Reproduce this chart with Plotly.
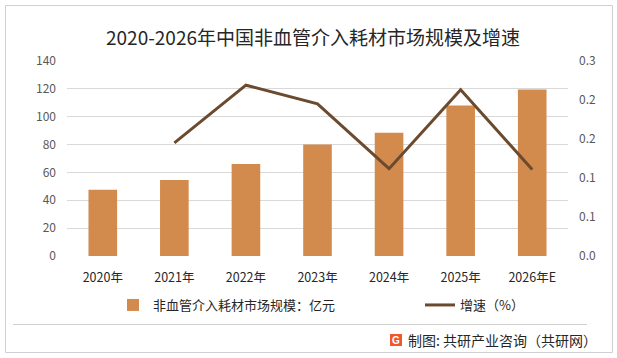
import plotly.graph_objects as go

years = ["2020年", "2021年", "2022年", "2023年", "2024年", "2025年", "2026年E"]
market_size = [47.5, 54.5, 66, 80, 88.5, 108, 119.5]
growth_years = ["2021年", "2022年", "2023年", "2024年", "2025年", "2026年E"]
growth_rate = [0.145, 0.219, 0.195, 0.112, 0.213, 0.111]
left_ticks = [0, 20, 40, 60, 80, 100, 120, 140]
right_ticks = [0, 0.05, 0.10, 0.15, 0.20, 0.25]
right_tick_text = ["0.0", "0.1", "0.1", "0.2", "0.2", "0.3"]

W, H = 617, 358
L, R, T, B = 67, 49, 61, 102
pw, ph = W - L - R, H - T - B

def px(x):
    return (x - L) / pw

def py(y):
    return (H - B - y) / ph

font_cn = "Noto Sans CJK SC, Microsoft YaHei, sans-serif"

fig = go.Figure()
fig.add_trace(go.Bar(
    x=years, y=market_size, name="非血管介入耗材市场规模：亿元",
    marker=dict(color="#D38B4D", line=dict(width=0)),
    yaxis="y", legend="legend",
))
fig.add_trace(go.Scatter(
    x=growth_years, y=growth_rate, name="增速（%）", mode="lines",
    line=dict(color="#6B4A2E", width=3),
    yaxis="y2", legend="legend2",
))

fig.update_layout(
    width=W, height=H,
    margin=dict(l=L, r=R, t=T, b=B),
    paper_bgcolor="white", plot_bgcolor="white",
    bargap=0.6,
    font=dict(family=font_cn, size=12, color="#595959"),
    title=dict(text="2020-2026年中国非血管介入耗材市场规模及增速",
               x=px(313), xref="paper", xanchor="center",
               y=1 - 38 / H, yanchor="middle",
               font=dict(family=font_cn, size=19, color="#262626")),
    xaxis=dict(type="category", showgrid=False, zeroline=False, showline=False,
               ticks="", ticklabelstandoff=12,
               tickfont=dict(size=12.5, color="#262626")),
    yaxis=dict(range=[0, 140], tickvals=left_ticks, showgrid=True,
               gridcolor="#D9D9D9", gridwidth=1, zeroline=False, showline=False,
               ticks="", ticklabelstandoff=10, tickfont=dict(size=12, color="#595959")),
    yaxis2=dict(range=[0, 0.25], overlaying="y", side="right",
                tickvals=right_ticks, ticktext=right_tick_text, showgrid=False,
                zeroline=False, showline=False, ticks="", ticklabelstandoff=10,
                tickfont=dict(size=12, color="#595959")),
    legend=dict(orientation="h", x=px(113), xanchor="left", y=py(305), yanchor="middle",
                font=dict(size=13, color="#262626"), bgcolor="rgba(0,0,0,0)"),
    legend2=dict(orientation="h", x=px(420), xanchor="left", y=py(305), yanchor="middle",
                 font=dict(size=13, color="#262626"), bgcolor="rgba(0,0,0,0)"),
    showlegend=True,
)

# outer border
fig.add_shape(type="rect", xref="paper", yref="paper",
              x0=px(5.5), x1=px(612.5), y0=py(352.5), y1=py(5.5),
              line=dict(color="#D0D0D0", width=1), layer="below")
# footer separator
fig.add_shape(type="line", xref="paper", yref="paper",
              x0=px(13), x1=px(587), y0=py(324.5), y1=py(324.5),
              line=dict(color="#D0D0D0", width=1))
# logo
fig.add_shape(type="rect", xref="paper", yref="paper",
              x0=px(390), x1=px(402), y0=py(346), y1=py(334),
              fillcolor="#F0582A", line=dict(width=0))
fig.add_annotation(text="<b>G</b>", xref="paper", yref="paper", x=px(396), y=py(340),
                   showarrow=False, font=dict(size=10, color="white", family="Arial"),
                   xanchor="center", yanchor="middle")
fig.add_annotation(text="制图: 共研产业咨询（共研网）", xref="paper", yref="paper",
                   x=px(406), y=py(340), xanchor="left", yanchor="middle", showarrow=False,
                   font=dict(size=14, color="#262626", family=font_cn))

fig.write_html("out.html", config={"displayModeBar": False},
               post_script="document.body.style.margin='0';document.body.style.overflow='hidden';")
